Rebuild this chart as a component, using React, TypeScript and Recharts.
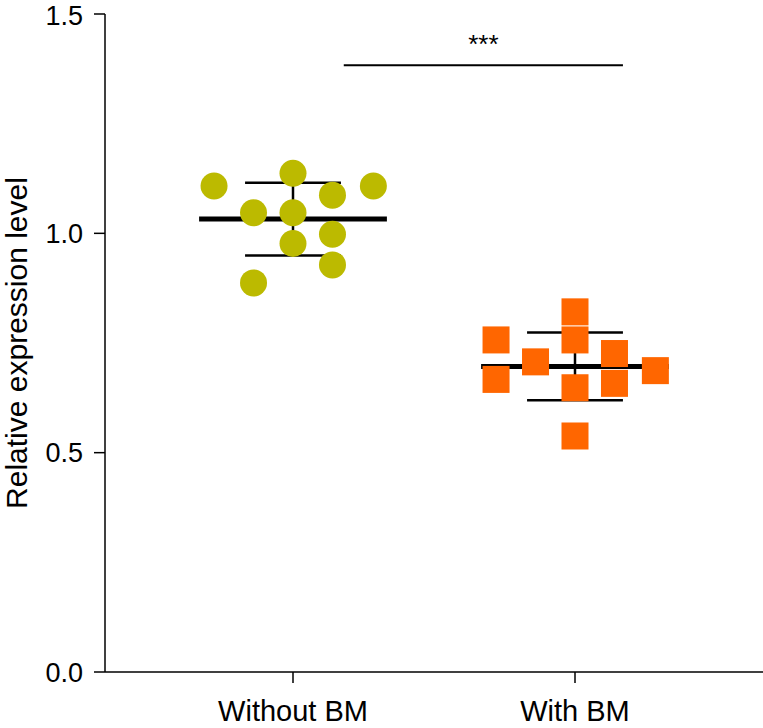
import React from "react"
import { ScatterChart, Scatter, XAxis, YAxis, ReferenceLine } from "recharts"

const categories = ["Without BM", "With BM"]
const yTicks = [0, 0.5, 1.0, 1.5]

// relative expression, one value per sample
const withoutBmValues = [1.108, 1.137, 1.108, 1.087, 1.047, 1.047, 0.998, 0.977, 0.928, 0.887]
const withBmValues = [0.821, 0.757, 0.757, 0.667, 0.707, 0.726, 0.658, 0.687, 0.648, 0.538]

// horizontal jitter of each sample around its category (category units)
const withoutBmJitter = [-0.28, 0, 0.285, 0.14, -0.14, 0, 0.14, 0, 0.14, -0.14]
const withBmJitter = [0, 0, -0.28, -0.28, -0.14, 0.14, 0.14, 0.285, 0, 0]

const sigBar = { from: 1.18, to: 2.17, y: 1.383, text: "***" }

const FONT = "'Liberation Sans', Arial, Helvetica, sans-serif"
const OLIVE = "#bcba00"
const ORANGE = "#ff6600"

const toPoints = (values: number[], jitter: number[], cat: number) =>
  values.map((v, i) => ({ x: cat + jitter[i], y: v }))

const stats = (values: number[]) => {
  const mean = values.reduce((a, b) => a + b, 0) / values.length
  const sd = Math.sqrt(values.reduce((a, b) => a + (b - mean) ** 2, 0) / (values.length - 1))
  return { mean, sd }
}

const CircleDot = (props: any) => (
  <circle cx={props.cx} cy={props.cy} r={13.5} fill={OLIVE} />
)

const SquareDot = (props: any) => (
  <rect x={props.cx - 13.5} y={props.cy - 13.5} width={27} height={27} fill={ORANGE} />
)

export default function App() {
  const groups = [
    { cat: 1, values: withoutBmValues },
    { cat: 2, values: withBmValues },
  ]

  // mean line + SD whiskers for each group
  const lines: React.ReactNode[] = []
  groups.forEach(({ cat, values }) => {
    const { mean, sd } = stats(values)
    lines.push(
      <ReferenceLine key={`v${cat}`} segment={[{ x: cat, y: mean - sd }, { x: cat, y: mean + sd }]} stroke="#000" strokeWidth={2.5} />,
      <ReferenceLine key={`t${cat}`} segment={[{ x: cat - 0.17, y: mean + sd }, { x: cat + 0.17, y: mean + sd }]} stroke="#000" strokeWidth={2.5} />,
      <ReferenceLine key={`b${cat}`} segment={[{ x: cat - 0.17, y: mean - sd }, { x: cat + 0.17, y: mean - sd }]} stroke="#000" strokeWidth={2.5} />,
      <ReferenceLine key={`m${cat}`} segment={[{ x: cat - 0.333, y: mean }, { x: cat + 0.333, y: mean }]} stroke="#000" strokeWidth={5} />
    )
  })

  return (
    <div style={{ width: 763, height: 728, fontFamily: FONT }}>
      <style>{"body{margin:0}"}</style>
      <ScatterChart width={763} height={728} margin={{ top: 14, right: 0, bottom: 0, left: 0 }}>
        <XAxis
          type="number"
          dataKey="x"
          domain={[1 / 3, 8 / 3]}
          ticks={[1, 2]}
          tickFormatter={(v: number) => categories[v - 1]}
          height={56}
          tickSize={11}
          tickMargin={17}
          axisLine={{ stroke: "#000", strokeWidth: 1.5 }}
          tickLine={{ stroke: "#000", strokeWidth: 1.5 }}
          tick={{ fill: "#000", fontSize: 29, fontFamily: FONT }}
        />
        <YAxis
          type="number"
          dataKey="y"
          domain={[0, 1.5]}
          ticks={yTicks}
          tickFormatter={(v: number) => v.toFixed(1)}
          width={105}
          tickSize={11}
          tickMargin={11}
          axisLine={{ stroke: "#000", strokeWidth: 1.5 }}
          tickLine={{ stroke: "#000", strokeWidth: 1.5 }}
          tick={{ fill: "#000", fontSize: 27, fontFamily: FONT }}
          label={{
            value: "Relative expression level",
            angle: -90,
            position: "insideLeft",
            offset: 16,
            style: { textAnchor: "middle", fontSize: 30, fill: "#000", fontFamily: FONT },
          }}
        />
        {lines}
        <ReferenceLine
          segment={[{ x: sigBar.from, y: sigBar.y }, { x: sigBar.to, y: sigBar.y }]}
          stroke="#000"
          strokeWidth={2}
          label={{ value: sigBar.text, position: "top", offset: 12, fontSize: 26, fill: "#000", fontFamily: FONT }}
        />
        <Scatter data={toPoints(withoutBmValues, withoutBmJitter, 1)} shape={CircleDot} isAnimationActive={false} />
        <Scatter data={toPoints(withBmValues, withBmJitter, 2)} shape={SquareDot} isAnimationActive={false} />
      </ScatterChart>
    </div>
  )
}
